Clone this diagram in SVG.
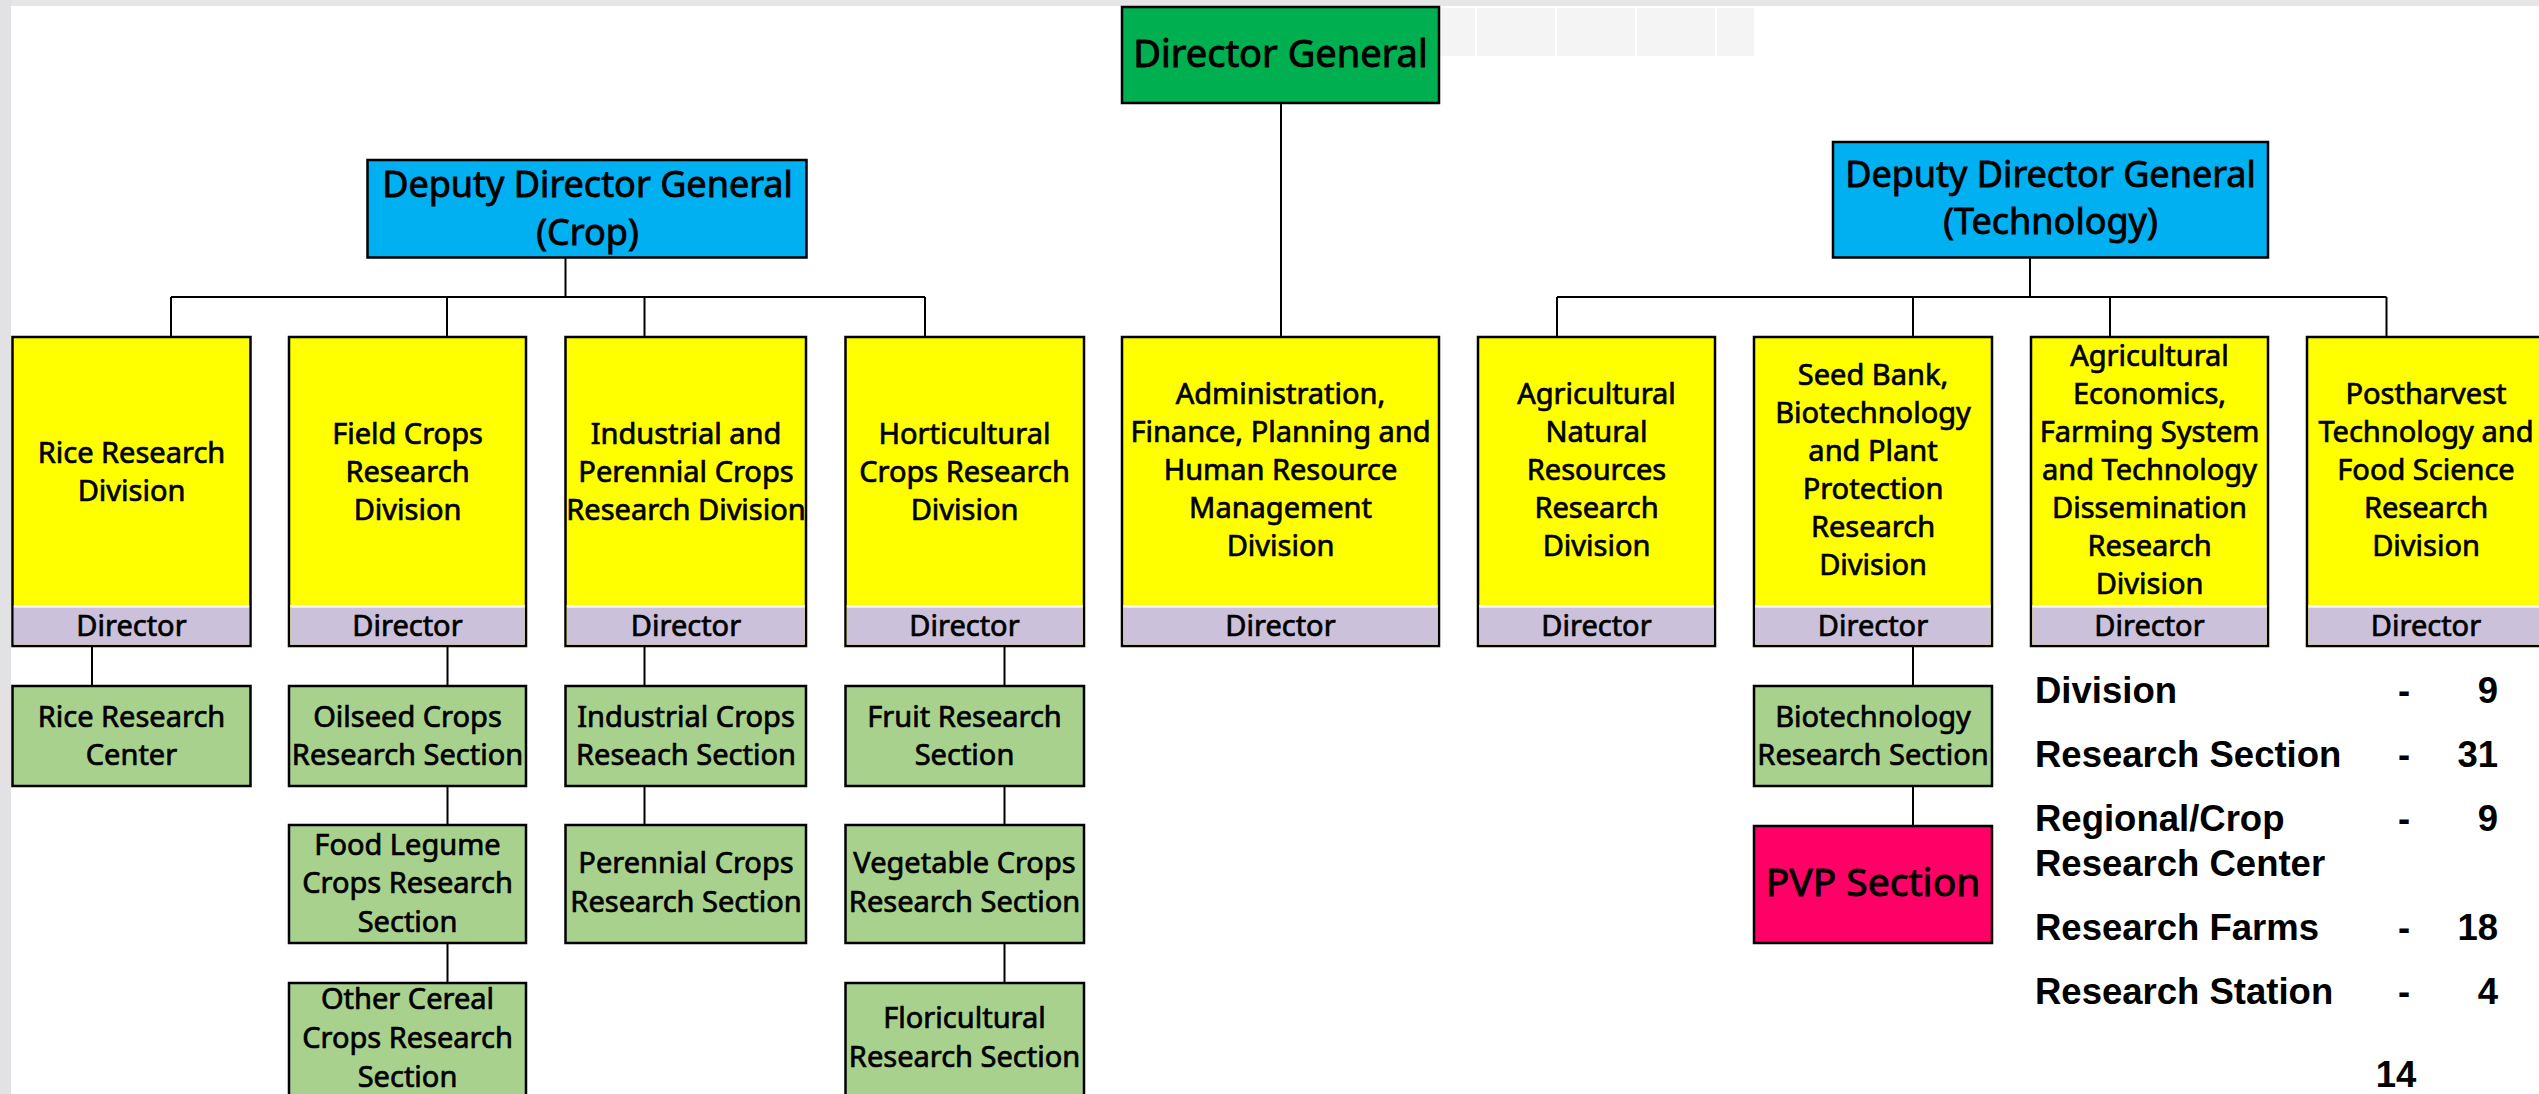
<svg xmlns="http://www.w3.org/2000/svg" width="2539" height="1094" viewBox="0 0 2539 1094">
<style>
.t{font-family:"Noto Sans","Liberation Sans",sans-serif;font-size:29px;fill:#000;stroke:#000;stroke-width:0.7;text-anchor:middle}
.big{font-size:36px;stroke-width:0.85}
.dg{font-size:38px;stroke-width:0.9}
.pvp{font-size:39px;stroke-width:0.9}
.box{stroke:#000;stroke-width:2.5}
.yel{fill:#ffff00}
.dir{fill:#ccc1da}
.grn{fill:#a9d18e}
.sep{stroke:#fff;stroke-width:2.5}
.con{stroke:#000;stroke-width:2;fill:none}
.st{font-family:"Liberation Sans",Arial,sans-serif;font-weight:bold;font-size:36.5px;fill:#000}
.faint{fill:#f4f4f4}
</style>
<rect x="0" y="0" width="2539" height="1094" fill="#fff"/>
<rect x="0" y="0" width="2539" height="6" fill="#e6e6e6"/>
<rect x="0" y="0" width="11" height="1094" fill="#e2e2e4"/>
<g id="faint-bar">
<rect class="faint" x="1440" y="8" width="35" height="48"/>
<rect class="faint" x="1477" y="8" width="78" height="48"/>
<rect class="faint" x="1557" y="8" width="78" height="48"/>
<rect class="faint" x="1637" y="8" width="78" height="48"/>
<rect class="faint" x="1717" y="8" width="37" height="48"/>
</g>
<g id="connectors">
<path class="con" d="M1281 103V337"/>
<path class="con" d="M565.5 258V297M171 297H925M171 297V337M447 297V337M644.5 297V337M925 297V337"/>
<path class="con" d="M2030 258V297M1557 297H2386.5M1557 297V337M1913 297V337M2110 297V337M2386.5 297V337"/>
<path class="con" d="M92 646V686"/>
<path class="con" d="M447.5 646V686M447.5 786V825M447.5 943V983"/>
<path class="con" d="M644.5 646V686M644.5 786V825"/>
<path class="con" d="M1004.5 646V686M1004.5 786V825M1004.5 943V983"/>
<path class="con" d="M1913 646V686M1913 786V826"/>
</g>
<g id="director-general">
<rect class="box" x="1122" y="7" width="317" height="96" fill="#00b050"/>
<text class="t dg" x="1280.5" y="67">Director General</text>
</g>
<g id="ddg-crop">
<rect class="box" x="367.5" y="160" width="439" height="97.5" fill="#00b0f0"/>
<text class="t big" x="587.5" y="197">Deputy Director General</text>
<text class="t big" x="587.5" y="245">(Crop)</text>
</g>
<g id="ddg-technology">
<rect class="box" x="1833" y="142" width="435" height="115.5" fill="#00b0f0"/>
<text class="t big" x="2050.5" y="187">Deputy Director General</text>
<text class="t big" x="2050.5" y="234">(Technology)</text>
</g>
<g id="div-rice">
<rect class="box yel" x="12.5" y="337" width="238" height="309"/>
<rect class="dir" x="13.75" y="607.5" width="235.5" height="37.25"/>
<line class="sep" x1="13.75" y1="606.3" x2="249.25" y2="606.3"/>
<text class="t" x="131.5" y="463">Rice Research</text>
<text class="t" x="131.5" y="501">Division</text>
<text class="t" x="131.5" y="636">Director</text>
</g>
<g id="div-field">
<rect class="box yel" x="289" y="337" width="237" height="309"/>
<rect class="dir" x="290.25" y="607.5" width="234.5" height="37.25"/>
<line class="sep" x1="290.25" y1="606.3" x2="524.75" y2="606.3"/>
<text class="t" x="407.5" y="444">Field Crops</text>
<text class="t" x="407.5" y="482">Research</text>
<text class="t" x="407.5" y="520">Division</text>
<text class="t" x="407.5" y="636">Director</text>
</g>
<g id="div-industrial">
<rect class="box yel" x="565.5" y="337" width="240.5" height="309"/>
<rect class="dir" x="566.75" y="607.5" width="238" height="37.25"/>
<line class="sep" x1="566.75" y1="606.3" x2="804.75" y2="606.3"/>
<text class="t" x="686" y="444">Industrial and</text>
<text class="t" x="686" y="482">Perennial Crops</text>
<text class="t" x="686" y="520">Research Division</text>
<text class="t" x="686" y="636">Director</text>
</g>
<g id="div-horticultural">
<rect class="box yel" x="845.5" y="337" width="238.5" height="309"/>
<rect class="dir" x="846.75" y="607.5" width="236" height="37.25"/>
<line class="sep" x1="846.75" y1="606.3" x2="1082.75" y2="606.3"/>
<text class="t" x="964.5" y="444">Horticultural</text>
<text class="t" x="964.5" y="482">Crops Research</text>
<text class="t" x="964.5" y="520">Division</text>
<text class="t" x="964.5" y="636">Director</text>
</g>
<g id="div-admin">
<rect class="box yel" x="1122" y="337" width="317" height="309"/>
<rect class="dir" x="1123.25" y="607.5" width="314.5" height="37.25"/>
<line class="sep" x1="1123.25" y1="606.3" x2="1437.75" y2="606.3"/>
<text class="t" x="1280.5" y="404">Administration,</text>
<text class="t" x="1280.5" y="442">Finance, Planning and</text>
<text class="t" x="1280.5" y="480">Human Resource</text>
<text class="t" x="1280.5" y="518">Management</text>
<text class="t" x="1280.5" y="556">Division</text>
<text class="t" x="1280.5" y="636">Director</text>
</g>
<g id="div-natural-resources">
<rect class="box yel" x="1478" y="337" width="237" height="309"/>
<rect class="dir" x="1479.25" y="607.5" width="234.5" height="37.25"/>
<line class="sep" x1="1479.25" y1="606.3" x2="1713.75" y2="606.3"/>
<text class="t" x="1596.5" y="404">Agricultural</text>
<text class="t" x="1596.5" y="442">Natural</text>
<text class="t" x="1596.5" y="480">Resources</text>
<text class="t" x="1596.5" y="518">Research</text>
<text class="t" x="1596.5" y="556">Division</text>
<text class="t" x="1596.5" y="636">Director</text>
</g>
<g id="div-seed-bank">
<rect class="box yel" x="1754" y="337" width="238" height="309"/>
<rect class="dir" x="1755.25" y="607.5" width="235.5" height="37.25"/>
<line class="sep" x1="1755.25" y1="606.3" x2="1990.75" y2="606.3"/>
<text class="t" x="1873" y="385">Seed Bank,</text>
<text class="t" x="1873" y="423">Biotechnology</text>
<text class="t" x="1873" y="461">and Plant</text>
<text class="t" x="1873" y="499">Protection</text>
<text class="t" x="1873" y="537">Research</text>
<text class="t" x="1873" y="575">Division</text>
<text class="t" x="1873" y="636">Director</text>
</g>
<g id="div-economics">
<rect class="box yel" x="2031" y="337" width="237" height="309"/>
<rect class="dir" x="2032.25" y="607.5" width="234.5" height="37.25"/>
<line class="sep" x1="2032.25" y1="606.3" x2="2266.75" y2="606.3"/>
<text class="t" x="2149.5" y="366">Agricultural</text>
<text class="t" x="2149.5" y="404">Economics,</text>
<text class="t" x="2149.5" y="442">Farming System</text>
<text class="t" x="2149.5" y="480">and Technology</text>
<text class="t" x="2149.5" y="518">Dissemination</text>
<text class="t" x="2149.5" y="556">Research</text>
<text class="t" x="2149.5" y="594">Division</text>
<text class="t" x="2149.5" y="636">Director</text>
</g>
<g id="div-postharvest">
<rect class="box yel" x="2307" y="337" width="240" height="309"/>
<rect class="dir" x="2308.25" y="607.5" width="237.5" height="37.25"/>
<line class="sep" x1="2308.25" y1="606.3" x2="2545.75" y2="606.3"/>
<text class="t" x="2426" y="404">Postharvest</text>
<text class="t" x="2426" y="442">Technology and</text>
<text class="t" x="2426" y="480">Food Science</text>
<text class="t" x="2426" y="518">Research</text>
<text class="t" x="2426" y="556">Division</text>
<text class="t" x="2426" y="636">Director</text>
</g>
<g id="rice-center">
<rect class="box grn" x="12.5" y="686" width="238" height="100"/>
<text class="t" x="131.5" y="727">Rice Research</text>
<text class="t" x="131.5" y="765">Center</text>
</g>
<g id="oilseed">
<rect class="box grn" x="289" y="686" width="237" height="100"/>
<text class="t" x="407.5" y="727">Oilseed Crops</text>
<text class="t" x="407.5" y="765">Research Section</text>
</g>
<g id="food-legume">
<rect class="box grn" x="289" y="825" width="237" height="118"/>
<text class="t" x="407.5" y="855">Food Legume</text>
<text class="t" x="407.5" y="893">Crops Research</text>
<text class="t" x="407.5" y="932">Section</text>
</g>
<g id="other-cereal">
<rect class="box grn" x="289" y="983" width="237" height="118"/>
<text class="t" x="407.5" y="1009">Other Cereal</text>
<text class="t" x="407.5" y="1048">Crops Research</text>
<text class="t" x="407.5" y="1087">Section</text>
</g>
<g id="industrial-crops">
<rect class="box grn" x="565.5" y="686" width="240.5" height="100"/>
<text class="t" x="686" y="727">Industrial Crops</text>
<text class="t" x="686" y="765">Reseach Section</text>
</g>
<g id="perennial-crops">
<rect class="box grn" x="565.5" y="825" width="240.5" height="118"/>
<text class="t" x="686" y="873">Perennial Crops</text>
<text class="t" x="686" y="912">Research Section</text>
</g>
<g id="fruit">
<rect class="box grn" x="845.5" y="686" width="238.5" height="100"/>
<text class="t" x="964.5" y="727">Fruit Research</text>
<text class="t" x="964.5" y="765">Section</text>
</g>
<g id="vegetable">
<rect class="box grn" x="845.5" y="825" width="238.5" height="118"/>
<text class="t" x="964.5" y="873">Vegetable Crops</text>
<text class="t" x="964.5" y="912">Research Section</text>
</g>
<g id="floricultural">
<rect class="box grn" x="845.5" y="983" width="238.5" height="118"/>
<text class="t" x="964.5" y="1028">Floricultural</text>
<text class="t" x="964.5" y="1067">Research Section</text>
</g>
<g id="biotechnology">
<rect class="box grn" x="1754" y="686" width="238" height="100"/>
<text class="t" x="1873" y="727">Biotechnology</text>
<text class="t" x="1873" y="765">Research Section</text>
</g>
<g id="pvp">
<rect class="box" x="1754" y="826" width="238" height="117" fill="#ff0066"/>
<text class="t pvp" x="1873" y="896">PVP Section</text>
</g>
<g id="stats">
<text class="st" x="2035" y="702.5">Division</text>
<text class="st" x="2404" y="702.5" text-anchor="middle">-</text>
<text class="st" x="2498" y="702.5" text-anchor="end">9</text>
<text class="st" x="2035" y="767">Research Section</text>
<text class="st" x="2404" y="767" text-anchor="middle">-</text>
<text class="st" x="2498" y="767" text-anchor="end">31</text>
<text class="st" x="2035" y="831">Regional/Crop</text>
<text class="st" x="2404" y="831" text-anchor="middle">-</text>
<text class="st" x="2498" y="831" text-anchor="end">9</text>
<text class="st" x="2035" y="876">Research Center</text>
<text class="st" x="2035" y="940">Research Farms</text>
<text class="st" x="2404" y="940" text-anchor="middle">-</text>
<text class="st" x="2498" y="940" text-anchor="end">18</text>
<text class="st" x="2035" y="1004">Research Station</text>
<text class="st" x="2404" y="1004" text-anchor="middle">-</text>
<text class="st" x="2498" y="1004" text-anchor="end">4</text>
<text class="st" x="2396" y="1087" text-anchor="middle" font-size="47">14</text>
</g>
</svg>
